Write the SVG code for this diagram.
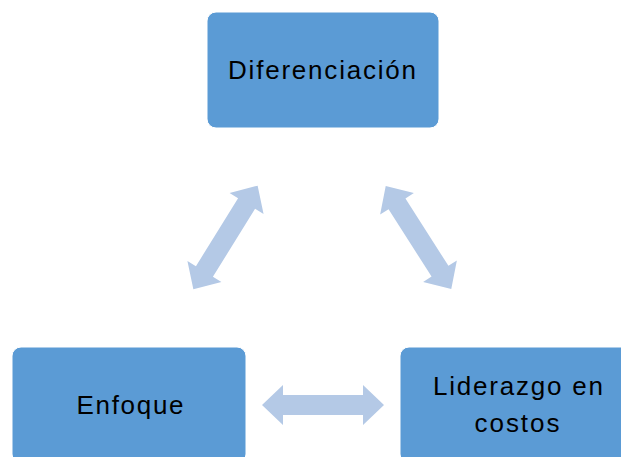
<svg xmlns="http://www.w3.org/2000/svg" xmlns:xlink="http://www.w3.org/1999/xlink" width="621" height="457" viewBox="0 0 621 457">
<style>
.box{fill:#5B9BD5;stroke:#ffffff;stroke-width:1}
.lbl{font-family:"Liberation Sans",Arial,sans-serif;font-size:26px;fill:#000;text-anchor:middle}
.arr{fill:#B4C9E6}
</style>
<defs>
<path id="dbl" d="M-61,0 L-40,-20 L-40,-10 L40,-10 L40,-20 L61,0 L40,20 L40,10 L-40,10 L-40,20 Z"/>
</defs>
<rect width="621" height="457" fill="#ffffff"/>
<g id="connectors" class="arr">
<use xlink:href="#dbl" transform="translate(225.5,237.5) rotate(-58.2)"/>
<use xlink:href="#dbl" transform="translate(418.5,237.5) rotate(57.5)"/>
<use xlink:href="#dbl" transform="translate(323,405)"/>
</g>
<g id="diferenciacion">
<rect class="box" x="207" y="12" width="232" height="116" rx="9"/>
<text class="lbl" x="322" y="79" textLength="188" lengthAdjust="spacing">Diferenciación</text>
</g>
<g id="enfoque">
<rect class="box" x="12" y="347" width="234" height="116" rx="9"/>
<text class="lbl" x="130" y="414" textLength="107" lengthAdjust="spacing">Enfoque</text>
</g>
<g id="liderazgo">
<rect class="box" x="400" y="347" width="234" height="116" rx="9"/>
<text class="lbl" x="518" y="395" textLength="170" lengthAdjust="spacing">Liderazgo en</text>
<text class="lbl" x="517" y="432" textLength="85" lengthAdjust="spacing">costos</text>
</g>
</svg>
